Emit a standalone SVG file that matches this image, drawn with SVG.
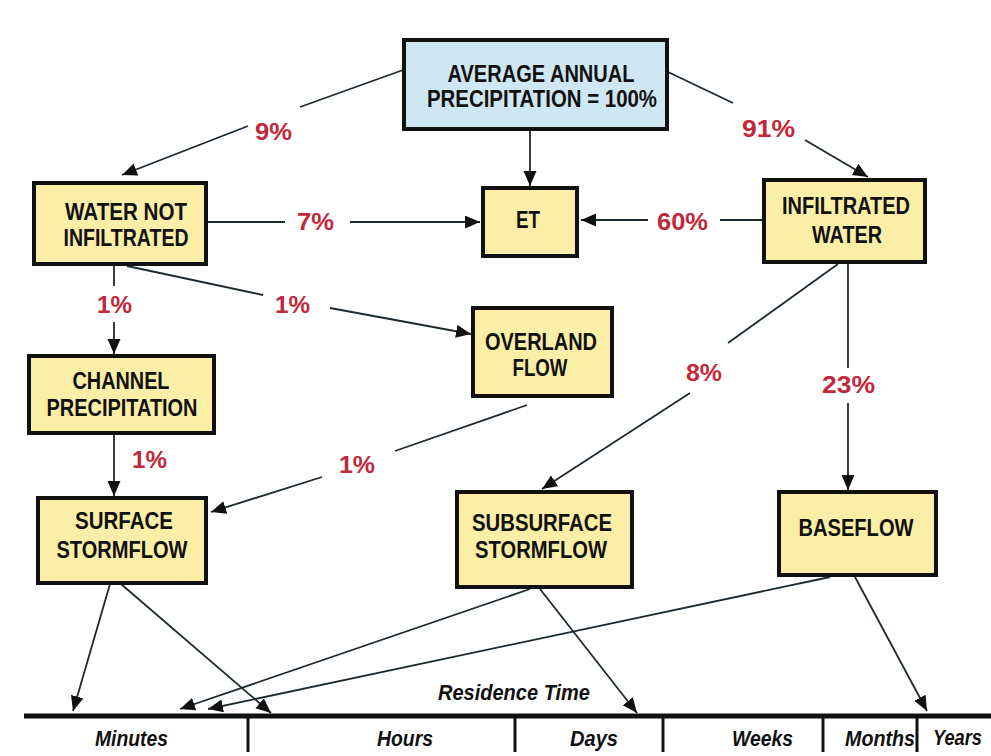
<svg xmlns="http://www.w3.org/2000/svg" width="991" height="756" viewBox="0 0 991 756">
<style>
.box{fill:#fbeea6;stroke:#111;stroke-width:4}
.top{fill:#cfe7f3;stroke:#111;stroke-width:4}
.nt{font-family:"Liberation Sans",Arial,sans-serif;font-weight:bold;font-size:23.5px;fill:#111;text-anchor:middle}
.pct{font-family:"Liberation Sans",Arial,sans-serif;font-weight:bold;font-size:24px;fill:#c0293b}
.c{stroke:#1c2a30;stroke-width:1.8;fill:none}
.ca{stroke:#1c2a30;stroke-width:1.8;fill:none;marker-end:url(#ah)}
.tl{font-family:"Liberation Sans",Arial,sans-serif;font-weight:bold;font-style:italic;font-size:21.5px;fill:#111}
</style>
<defs>
<marker id="ah" markerUnits="userSpaceOnUse" markerWidth="16" markerHeight="14" refX="15" refY="6.5" orient="auto">
<path d="M0,0 L15,6.5 L0,13 z" fill="#111"/>
</marker>
</defs>
<rect width="991" height="756" fill="#ffffff"/>

<g id="connectors">
<line class="c" x1="403" y1="70" x2="300" y2="107"/>
<line class="ca" x1="248" y1="126" x2="122" y2="175"/>
<line class="c" x1="668" y1="72" x2="733" y2="103"/>
<line class="ca" x1="805" y1="140" x2="868" y2="177"/>
<line class="ca" x1="530" y1="131" x2="530" y2="186"/>
<line class="c" x1="208" y1="222" x2="285" y2="222"/>
<line class="ca" x1="350" y1="222" x2="480" y2="222"/>
<line class="c" x1="762" y1="220" x2="720" y2="220"/>
<line class="ca" x1="648" y1="220" x2="581" y2="220"/>
<line class="c" x1="114" y1="266" x2="114" y2="286"/>
<line class="ca" x1="114" y1="322" x2="114" y2="354"/>
<line class="c" x1="127" y1="266" x2="263" y2="295"/>
<line class="ca" x1="330" y1="308" x2="471" y2="334"/>
<line class="ca" x1="114" y1="434" x2="114" y2="496"/>
<line class="c" x1="527" y1="405" x2="395" y2="451"/>
<line class="ca" x1="322" y1="477" x2="211" y2="512"/>
<line class="c" x1="838" y1="264" x2="728" y2="343"/>
<line class="ca" x1="690" y1="393" x2="542" y2="489"/>
<line class="c" x1="848" y1="264" x2="848" y2="368"/>
<line class="ca" x1="848" y1="403" x2="848" y2="490"/>
<line class="ca" x1="110" y1="584" x2="73" y2="711"/>
<line class="ca" x1="121" y1="584" x2="271" y2="713"/>
<line class="ca" x1="530" y1="589" x2="180" y2="709"/>
<line class="ca" x1="540" y1="589" x2="637" y2="713"/>
<line class="ca" x1="830" y1="577" x2="208" y2="709"/>
<line class="ca" x1="855" y1="577" x2="927" y2="711"/>
</g>

<g id="percentages">
<text class="pct" x="255" y="140" textLength="37" lengthAdjust="spacingAndGlyphs">9%</text>
<text class="pct" x="742" y="137" textLength="53" lengthAdjust="spacingAndGlyphs">91%</text>
<text class="pct" x="297" y="230" textLength="37" lengthAdjust="spacingAndGlyphs">7%</text>
<text class="pct" x="657" y="230" textLength="51" lengthAdjust="spacingAndGlyphs">60%</text>
<text class="pct" x="97" y="313" textLength="35" lengthAdjust="spacingAndGlyphs">1%</text>
<text class="pct" x="275" y="313" textLength="35" lengthAdjust="spacingAndGlyphs">1%</text>
<text class="pct" x="132" y="468" textLength="35" lengthAdjust="spacingAndGlyphs">1%</text>
<text class="pct" x="339" y="473" textLength="36" lengthAdjust="spacingAndGlyphs">1%</text>
<text class="pct" x="686" y="381" textLength="36" lengthAdjust="spacingAndGlyphs">8%</text>
<text class="pct" x="822" y="393" textLength="53" lengthAdjust="spacingAndGlyphs">23%</text>
</g>

<g id="precip">
<rect class="top" x="404" y="40" width="263" height="89"/>
<text class="nt" x="541" y="82" textLength="187" lengthAdjust="spacingAndGlyphs">AVERAGE ANNUAL</text>
<text class="nt" x="542" y="107" textLength="230" lengthAdjust="spacingAndGlyphs">PRECIPITATION = 100%</text>
</g>
<g id="not-infiltrated">
<rect class="box" x="34" y="183" width="172" height="81"/>
<text class="nt" x="126" y="220" textLength="122" lengthAdjust="spacingAndGlyphs">WATER NOT</text>
<text class="nt" x="126" y="246" textLength="125" lengthAdjust="spacingAndGlyphs">INFILTRATED</text>
</g>
<g id="et">
<rect class="box" x="483" y="188" width="94" height="68"/>
<text class="nt" x="528" y="228" textLength="24" lengthAdjust="spacingAndGlyphs">ET</text>
</g>
<g id="infiltrated">
<rect class="box" x="764" y="180" width="161" height="82"/>
<text class="nt" x="846" y="214" textLength="128" lengthAdjust="spacingAndGlyphs">INFILTRATED</text>
<text class="nt" x="847" y="243" textLength="70" lengthAdjust="spacingAndGlyphs">WATER</text>
</g>
<g id="overland">
<rect class="box" x="473" y="308" width="139" height="88"/>
<text class="nt" x="541" y="350" textLength="112" lengthAdjust="spacingAndGlyphs">OVERLAND</text>
<text class="nt" x="540" y="376" textLength="55" lengthAdjust="spacingAndGlyphs">FLOW</text>
</g>
<g id="channel">
<rect class="box" x="29" y="356" width="185" height="77"/>
<text class="nt" x="121" y="389" textLength="97" lengthAdjust="spacingAndGlyphs">CHANNEL</text>
<text class="nt" x="122" y="416" textLength="151" lengthAdjust="spacingAndGlyphs">PRECIPITATION</text>
</g>
<g id="surface">
<rect class="box" x="38" y="498" width="168" height="85"/>
<text class="nt" x="124" y="529" textLength="98" lengthAdjust="spacingAndGlyphs">SURFACE</text>
<text class="nt" x="122" y="558" textLength="131" lengthAdjust="spacingAndGlyphs">STORMFLOW</text>
</g>
<g id="subsurface">
<rect class="box" x="457" y="492" width="175" height="95"/>
<text class="nt" x="542" y="531" textLength="140" lengthAdjust="spacingAndGlyphs">SUBSURFACE</text>
<text class="nt" x="541" y="558" textLength="132" lengthAdjust="spacingAndGlyphs">STORMFLOW</text>
</g>
<g id="baseflow">
<rect class="box" x="779" y="492" width="157" height="83"/>
<text class="nt" x="856" y="536" textLength="115" lengthAdjust="spacingAndGlyphs">BASEFLOW</text>
</g>

<g id="timeline">
<line x1="24" y1="716" x2="991" y2="716" stroke="#111" stroke-width="5"/>
<line x1="248" y1="716" x2="248" y2="752" stroke="#111" stroke-width="3"/>
<line x1="515" y1="716" x2="515" y2="752" stroke="#111" stroke-width="3"/>
<line x1="663" y1="716" x2="663" y2="752" stroke="#111" stroke-width="3"/>
<line x1="823" y1="716" x2="823" y2="752" stroke="#111" stroke-width="3"/>
<line x1="917" y1="716" x2="917" y2="752" stroke="#111" stroke-width="3"/>
<text class="tl" x="438" y="700" textLength="152" lengthAdjust="spacingAndGlyphs">Residence Time</text>
<text class="tl" x="95" y="746" textLength="73" lengthAdjust="spacingAndGlyphs">Minutes</text>
<text class="tl" x="377" y="746" textLength="56" lengthAdjust="spacingAndGlyphs">Hours</text>
<text class="tl" x="570" y="746" textLength="48" lengthAdjust="spacingAndGlyphs">Days</text>
<text class="tl" x="732" y="746" textLength="61" lengthAdjust="spacingAndGlyphs">Weeks</text>
<text class="tl" x="845" y="746" textLength="70" lengthAdjust="spacingAndGlyphs">Months</text>
<text class="tl" x="933" y="745" textLength="49" lengthAdjust="spacingAndGlyphs">Years</text>
</g>
</svg>
